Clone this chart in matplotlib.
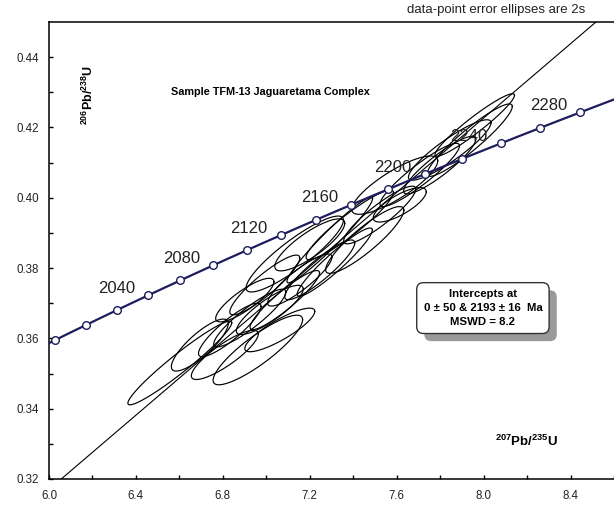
# U-Pb concordia diagram, sample TFM-13
import numpy as np
import matplotlib.pyplot as plt
from matplotlib import patheffects

plt.rcParams['font.family'] = ['Liberation Sans', 'DejaVu Sans']
plt.rcParams['mathtext.fontset'] = 'custom'
plt.rcParams['mathtext.rm'] = 'Liberation Sans'
plt.rcParams['mathtext.bf'] = 'Liberation Sans:bold'

# decay constants (per Ma)
lam238 = 1.55125e-4
lam235 = 9.8485e-4

# concordia ages
marker_ages = np.arange(1980, 2301, 20)
label_ages = [2040, 2080, 2120, 2160, 2200, 2240, 2280]

# discordia intercepts (Ma)
lower_int = 0
upper_int = 2193

# data-point error ellipses (2s): 207Pb/235U, 206Pb/238U, errors, rho
ell_x = [6.602, 6.694, 6.961, 6.832, 6.924, 7.016, 7.085, 7.131, 7.200,
         7.154, 7.246, 7.315, 7.384, 7.453, 7.522, 7.591, 7.706, 7.844,
         7.936, 7.959, 7.614, 7.292, 6.901, 7.062, 6.993, 6.809, 7.798]
ell_y = [0.3530, 0.3581, 0.3567, 0.3624, 0.3658, 0.3681, 0.3709, 0.3840, 0.3866,
         0.3766, 0.3795, 0.3817, 0.3923, 0.3880, 0.3951, 0.4036, 0.4065, 0.4136,
         0.4164, 0.4207, 0.3980, 0.3880, 0.3709, 0.3624, 0.3752, 0.3553, 0.4093]
ell_sx = [0.239, 0.131, 0.206, 0.144, 0.166, 0.154, 0.160, 0.224, 0.161,
          0.148, 0.161, 0.173, 0.201, 0.180, 0.166, 0.198, 0.183, 0.190,
          0.196, 0.183, 0.122, 0.197, 0.134, 0.161, 0.161, 0.154, 0.166]
ell_sy = [0.0119, 0.0074, 0.0099, 0.0076, 0.0082, 0.0070, 0.0084, 0.0108, 0.0074,
          0.0074, 0.0085, 0.0097, 0.0099, 0.0095, 0.0082, 0.0083, 0.0090, 0.0086,
          0.0103, 0.0089, 0.0049, 0.0122, 0.0062, 0.0062, 0.0085, 0.0070, 0.0082]
ell_rho = [0.96, 0.83, 0.87, 0.88, 0.90, 0.85, 0.92, 0.89, 0.83,
           0.88, 0.90, 0.94, 0.93, 0.89, 0.90, 0.83, 0.92, 0.90,
           0.93, 0.95, 0.76, 0.965, 0.84, 0.85, 0.90, 0.85, 0.90]


def concordia(t):
    t = np.asarray(t, dtype=float)
    return np.exp(lam235 * t) - 1, np.exp(lam238 * t) - 1


fig = plt.figure(figsize=(6.14, 5.05), dpi=100)
ax = fig.add_axes([0.0798, 0.0515, 0.9202, 0.9049])
ax.set_xlim(6.0, 8.6)
ax.set_ylim(0.32, 0.45)

# error ellipses
tt = np.linspace(0, 2 * np.pi, 200)
for x, y, sx, sy, r in zip(ell_x, ell_y, ell_sx, ell_sy, ell_rho):
    cov = np.array([[sx * sx, r * sx * sy], [r * sx * sy, sy * sy]])
    L = np.linalg.cholesky(cov)
    pts = L @ np.vstack([np.cos(tt), np.sin(tt)])
    ax.plot(x + pts[0], y + pts[1], color='black', lw=0.85, zorder=3)

# discordia through the two intercepts
dx, dy = concordia([lower_int, upper_int])
slope = (dy[1] - dy[0]) / (dx[1] - dx[0])
xx = np.array([6.0, 8.6])
ax.plot(xx, dy[0] + slope * (xx - dx[0]), color='black', lw=0.8, zorder=4)

# concordia curve
cx, cy = concordia(np.linspace(1950, 2320, 300))
ax.plot(cx, cy, color='#1c1c5e', lw=1.6, zorder=5)
mx, my = concordia(marker_ages)
ax.plot(mx, my, 'o', ms=5.5, mfc='white', mec='#1c1c5e', mew=1.0, zorder=6,
        clip_on=False)
lx, ly = concordia(label_ages)
for a, x, y in zip(label_ages, lx, ly):
    ax.annotate(str(a), (x, y), xytext=(-23, 5), textcoords='offset points',
                ha='center', va='center', fontsize=12, color='#222222', zorder=7)

# axes styling
ax.set_xticks(np.arange(6.0, 8.61, 0.4))
ax.set_xticks(np.arange(6.2, 8.61, 0.4), minor=True)
ax.set_yticks(np.arange(0.32, 0.441, 0.02))
ax.set_yticks(np.arange(0.33, 0.45, 0.02), minor=True)
ax.xaxis.set_major_formatter(plt.FormatStrFormatter('%.1f'))
ax.yaxis.set_major_formatter(plt.FormatStrFormatter('%.2f'))
ax.tick_params(which='both', direction='in', length=3, width=1, labelsize=8.3,
               labelcolor='#222222', top=False, right=False)
ax.tick_params(axis='x', pad=8)
ax.tick_params(axis='y', pad=7)
ax.spines['right'].set_visible(False)
for s in ['left', 'bottom', 'top']:
    ax.spines[s].set_linewidth(1.1)

# texts
ax.text(0.392, 0.847, 'Sample TFM-13 Jaguaretama Complex', transform=ax.transAxes,
        ha='center', va='center', fontsize=7.8, fontweight='bold')
fig.text(585 / 614, 1 - 10 / 505, 'data-point error ellipses are 2s',
         ha='right', va='center', fontsize=9.5, color='#222222')
ax.text(0.846, 0.083, r'$^{\mathbf{207}}$Pb/$^{\mathbf{235}}$U', transform=ax.transAxes,
        ha='center', va='center', fontsize=9.5, fontweight='bold')
ax.text(0.069, 0.84, r'$^{\mathbf{206}}$Pb/$^{\mathbf{238}}$U', transform=ax.transAxes,
        ha='center', va='center', fontsize=9, fontweight='bold', rotation=90)

box_text = 'Intercepts at\n0 \u00b1 50 & 2193 \u00b1 16  Ma\nMSWD = 8.2'
box = ax.text(0.768, 0.374, box_text, transform=ax.transAxes, ha='center', va='center',
              fontsize=8.2, fontweight='bold', linespacing=1.45,
              bbox=dict(boxstyle='round,pad=0.6', fc='white', ec='#333333', lw=1),
              zorder=9)
box.get_bbox_patch().set_path_effects([
    patheffects.SimplePatchShadow(offset=(5.5, -5.5), shadow_rgbFace='#9a9a9a', alpha=1.0),
    patheffects.Normal()])

fig.savefig('out.png', dpi=100)
